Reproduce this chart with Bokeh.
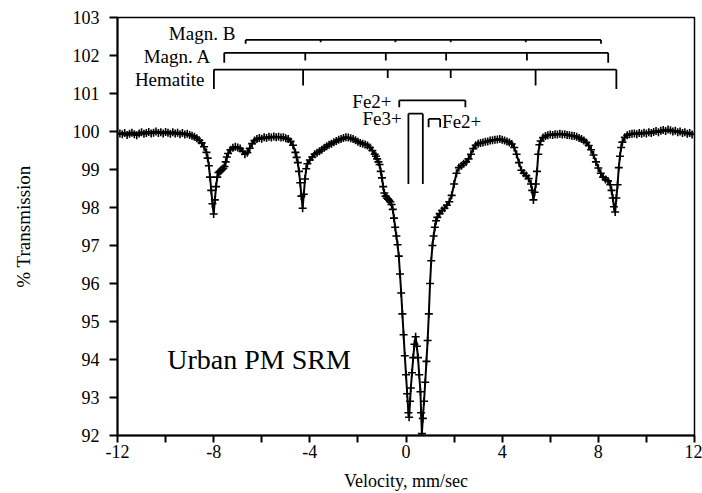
from bokeh.plotting import figure
from bokeh.models import Label, FixedTicker, Range1d
from bokeh.embed import file_html
from bokeh.resources import INLINE

# ---- Data ----
velocity = [
    -11.9, -11.8, -11.7, -11.6, -11.5, -11.4, -11.3, -11.2, -11.1, -11.0,
    -10.9, -10.8, -10.7, -10.6, -10.5, -10.4, -10.3, -10.2, -10.1, -10.0,
    -9.9, -9.8, -9.7, -9.6, -9.5, -9.4, -9.3, -9.2, -9.1, -9.0,
    -8.9, -8.8, -8.7, -8.6, -8.5, -8.4, -8.3, -8.25, -8.2, -8.15,
    -8.1, -8.05, -8.0, -7.95, -7.9, -7.85, -7.8, -7.75, -7.7, -7.65,
    -7.6, -7.55, -7.5, -7.45, -7.4, -7.3, -7.2, -7.1, -7.0, -6.9,
    -6.8, -6.7, -6.6, -6.5, -6.4, -6.3, -6.2, -6.1, -6.0, -5.9,
    -5.8, -5.7, -5.6, -5.5, -5.4, -5.3, -5.2, -5.1, -5.0, -4.9,
    -4.8, -4.7, -4.6, -4.55, -4.5, -4.45, -4.4, -4.35, -4.3, -4.25,
    -4.2, -4.15, -4.1, -4.0, -3.9, -3.8, -3.7, -3.6, -3.5, -3.4,
    -3.3, -3.2, -3.1, -3.0, -2.9, -2.8, -2.7, -2.6, -2.5, -2.4,
    -2.3, -2.2, -2.1, -2.0, -1.9, -1.8, -1.7, -1.6, -1.5, -1.4,
    -1.3, -1.25, -1.2, -1.15, -1.1, -1.05, -1.0, -0.95, -0.9, -0.85,
    -0.8, -0.75, -0.7, -0.65, -0.6, -0.55, -0.5, -0.45, -0.4, -0.35,
    -0.3, -0.25, -0.2, -0.15, -0.1, -0.05, 0.0, 0.05, 0.1, 0.13,
    0.17, 0.2, 0.25, 0.3, 0.35, 0.4, 0.45, 0.5, 0.55, 0.6,
    0.63, 0.66, 0.7, 0.75, 0.8, 0.85, 0.9, 0.95, 1.0, 1.05,
    1.1, 1.15, 1.2, 1.25, 1.3, 1.4, 1.5, 1.6, 1.7, 1.8,
    1.9, 2.0, 2.1, 2.2, 2.3, 2.4, 2.5, 2.6, 2.7, 2.8,
    2.9, 3.0, 3.1, 3.2, 3.3, 3.4, 3.5, 3.6, 3.7, 3.8,
    3.9, 4.0, 4.1, 4.2, 4.3, 4.4, 4.5, 4.6, 4.7, 4.8,
    4.9, 5.0, 5.1, 5.2, 5.25, 5.3, 5.35, 5.4, 5.45, 5.5,
    5.55, 5.6, 5.7, 5.8, 5.9, 6.0, 6.1, 6.2, 6.3, 6.4,
    6.5, 6.6, 6.7, 6.8, 6.9, 7.0, 7.1, 7.2, 7.3, 7.4,
    7.5, 7.6, 7.7, 7.8, 7.9, 8.0, 8.1, 8.2, 8.3, 8.4,
    8.5, 8.55, 8.6, 8.65, 8.7, 8.75, 8.8, 8.85, 8.9, 8.95,
    9.0, 9.1, 9.2, 9.3, 9.4, 9.5, 9.6, 9.7, 9.8, 9.9,
    10.0, 10.1, 10.2, 10.3, 10.4, 10.5, 10.6, 10.7, 10.8, 10.9,
    11.0, 11.1, 11.2, 11.3, 11.4, 11.5, 11.6, 11.7, 11.8, 11.9,
]
transmission = [
    99.95, 99.93, 99.96, 99.91, 99.94, 99.97, 99.93, 99.90, 99.95, 99.98,
    99.94, 99.96, 99.99, 99.95, 99.97, 100.00, 99.96, 99.98, 99.95, 99.99,
    99.97, 99.94, 99.98, 99.95, 99.97, 99.93, 99.96, 99.92, 99.94, 99.91,
    99.89, 99.86, 99.82, 99.77, 99.70, 99.60, 99.45, 99.30, 99.10, 98.80,
    98.45, 98.10, 97.83, 98.20, 98.55, 98.80, 98.92, 98.95, 98.97, 99.00,
    99.03, 99.08, 99.20, 99.33, 99.42, 99.52, 99.57, 99.60, 99.58, 99.55,
    99.48, 99.40, 99.44, 99.56, 99.68, 99.76, 99.80, 99.83, 99.81, 99.85,
    99.83, 99.86, 99.84, 99.87, 99.85, 99.86, 99.84, 99.85, 99.82, 99.80,
    99.74, 99.64, 99.45, 99.32, 99.18, 98.95, 98.65, 98.30, 97.98, 98.35,
    98.75, 99.02, 99.15, 99.25, 99.33, 99.40, 99.44, 99.48, 99.52, 99.57,
    99.61, 99.65, 99.68, 99.72, 99.75, 99.78, 99.80, 99.83, 99.85, 99.84,
    99.82, 99.80, 99.77, 99.73, 99.70, 99.68, 99.66, 99.63, 99.58, 99.50,
    99.40, 99.35, 99.28, 99.20, 99.13, 98.95, 98.78, 98.55, 98.38, 98.30,
    98.25, 98.22, 98.19, 98.15, 98.08, 97.95, 97.72, 97.48, 97.25, 97.02,
    96.72, 96.25, 95.75, 95.20, 94.65, 94.10, 93.60, 93.10, 92.60, 92.48,
    92.90, 93.25, 93.65, 94.05, 94.40, 94.60, 94.35, 94.05, 93.60, 93.15,
    92.60, 92.05, 92.45, 92.90, 93.40, 93.95, 94.50, 95.20, 96.00, 96.60,
    97.00, 97.25, 97.48, 97.65, 97.74, 97.84, 97.92, 97.98, 98.06, 98.15,
    98.32, 98.62, 98.90, 99.05, 99.10, 99.15, 99.20, 99.28, 99.40, 99.55,
    99.64, 99.68, 99.70, 99.71, 99.73, 99.74, 99.76, 99.77, 99.78, 99.79,
    99.80, 99.78, 99.76, 99.74, 99.71, 99.67, 99.58, 99.40, 99.18, 98.98,
    98.90, 98.84, 98.76, 98.62, 98.45, 98.20, 98.40, 98.62, 98.95, 99.40,
    99.65, 99.75, 99.84, 99.88, 99.90, 99.92, 99.91, 99.93, 99.92, 99.94,
    99.92, 99.93, 99.91, 99.90, 99.89, 99.88, 99.86, 99.83, 99.80, 99.76,
    99.71, 99.63, 99.52, 99.38, 99.20, 99.04, 98.90, 98.80, 98.74, 98.70,
    98.60, 98.45, 98.25, 98.02, 97.88, 98.25, 98.60, 99.05, 99.35, 99.58,
    99.72, 99.85, 99.90, 99.93, 99.94, 99.95, 99.93, 99.96, 99.94, 99.97,
    99.95, 99.98, 99.96, 99.99, 100.01, 99.98, 100.02, 100.04, 100.01, 100.05,
    100.03, 100.00, 100.02, 99.98, 100.00, 99.96, 99.98, 99.94, 99.96, 99.92,
]

# Line positions (mm/sec) of the component brackets
hematite_lines = [-7.99, -4.28, -0.76, 1.86, 5.39, 8.75]
magn_a_lines = [-7.56, -4.19, -0.84, 1.67, 5.03, 8.41]
magn_b_lines = [-6.67, -3.55, -0.44, 1.86, 4.98, 8.11]
fe2_outer_lines = [-0.28, 2.47]
fe3_lines = [0.10, 0.70]
fe2_inner_lines = [0.94, 1.42]

x_ticks = [-12, -10, -8, -6, -4, -2, 0, 2, 4, 6, 8, 10, 12]
x_labels = ["-12", "", "-8", "", "-4", "", "0", "", "4", "", "8", "", "12"]
y_ticks = [92, 93, 94, 95, 96, 97, 98, 99, 100, 101, 102, 103]

FONT = "Liberation Serif"

p = figure(width=702, height=493, output_backend="svg", toolbar_location=None,
           x_range=Range1d(-12, 12), y_range=Range1d(92, 103),
           min_border_left=117, min_border_right=8, min_border_top=17,
           min_border_bottom=57)
p.background_fill_color = "white"
p.border_fill_color = "white"
p.outline_line_color = "black"
p.outline_line_width = 1.5
p.grid.visible = False

# axes
p.xaxis.ticker = FixedTicker(ticks=x_ticks)
p.xaxis.major_label_overrides = {t: l for t, l in zip(x_ticks, x_labels)}
p.yaxis.ticker = FixedTicker(ticks=y_ticks)
for ax in (p.xaxis, p.yaxis):
    ax.axis_line_width = 2
    ax.axis_line_color = "black"
    ax.major_tick_line_width = 2
    ax.major_tick_line_color = "black"
    ax.major_tick_in = 0
    ax.minor_tick_line_color = None
    ax.major_label_text_font = FONT
    ax.major_label_text_font_size = "18px"
    ax.major_label_text_color = "black"
    ax.axis_label_text_font = FONT
    ax.axis_label_text_font_style = "normal"
    ax.axis_label_text_color = "black"
p.xaxis.major_tick_out = 7
p.yaxis.major_tick_out = 8
p.xaxis.major_label_standoff = 2
p.yaxis.major_label_standoff = 10
p.xaxis.axis_label = "Velocity, mm/sec"
p.xaxis.axis_label_text_font_size = "18px"
p.xaxis.axis_label_standoff = 10
p.yaxis.axis_label = "% Transmission"
p.yaxis.axis_label_text_font_size = "19px"
p.yaxis.axis_label_standoff = 36

# spectrum
p.line(velocity, transmission, line_color="black", line_width=2)
p.scatter(velocity, transmission, marker="cross", size=8, line_color="black",
          line_width=1.6)

# brackets
def bracket(lines, y_bar, drops, width=1.8):
    p.line([lines[0], lines[-1]], [y_bar, y_bar], line_color="black", line_width=width)
    p.segment(x0=lines, y0=[y_bar] * len(lines), x1=lines,
              y1=[y_bar - d for d in drops], line_color="black", line_width=width)

bracket(hematite_lines, 101.63, [0.51, 0.42, 0.22, 0.22, 0.42, 0.51])
bracket(magn_a_lines, 102.07, [0.26, 0.2, 0.2, 0.2, 0.2, 0.26])
bracket(magn_b_lines, 102.41, [0.10, 0.06, 0.06, 0.06, 0.06, 0.10])
bracket(fe2_outer_lines, 100.82, [0.18, 0.18])
bracket(fe3_lines, 100.47, [1.85, 1.85])
bracket(fe2_inner_lines, 100.33, [0.22, 0.22])

def label(x, y, text, align="right", size="19px"):
    p.add_layout(Label(x=x, y=y, text=text, text_font=FONT, text_font_size=size,
                       text_align=align, text_baseline="middle", text_color="black"))

label(-7.1, 102.57, "Magn. B")
label(-8.1, 101.98, "Magn. A")
label(-8.38, 101.38, "Hematite")
label(-0.6, 100.79, "Fe2+")
label(-0.18, 100.35, "Fe3+")
label(1.5, 100.26, "Fe2+", align="left")
label(-9.93, 94.0, "Urban PM SRM", align="left", size="28px")

open("out.html", "w").write(file_html(p, INLINE))
